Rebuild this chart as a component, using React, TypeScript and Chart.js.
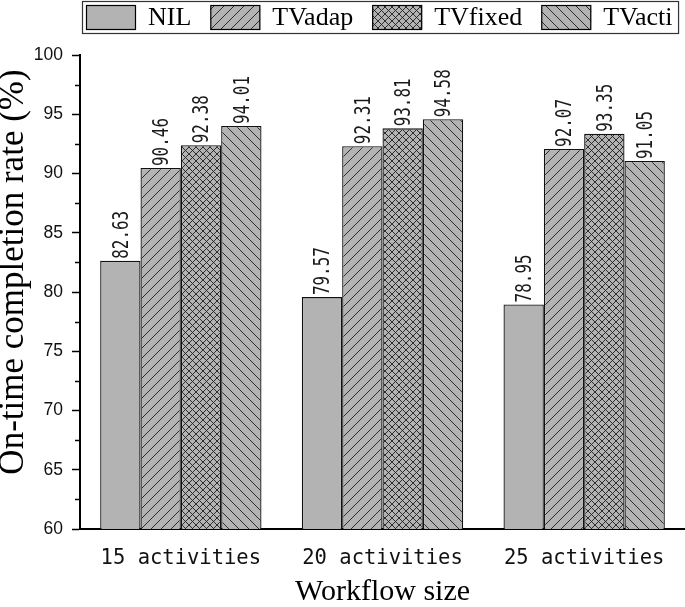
import { useEffect, useRef } from 'react';
import { Chart, registerables } from 'chart.js';

Chart.register(...registerables);

const categories = ['15 activities', '20 activities', '25 activities'];
const seriesNames = ['NIL', 'TVadap', 'TVfixed', 'TVacti'];
const nilValues = [82.63, 79.57, 78.95];
const tvadapValues = [90.46, 92.31, 92.07];
const tvfixedValues = [92.38, 93.81, 93.35];
const tvactiValues = [94.01, 94.58, 91.05];
const seriesPatterns = ['solid', 'slash', 'cross', 'backslash'];
const yMin = 60;
const yMax = 100;
const yStep = 5;
const yMinorStep = 2.5;
const xTitle = 'Workflow size';
const yTitle = 'On-time completion rate (%)';

const FILL = '#b3b3b3';
const HATCH = '#1e1e1e';

function makePattern(kind: string): CanvasPattern | string {
  if (kind === 'solid') return FILL;
  const p = kind === 'cross' ? 7 : 10;
  const c = document.createElement('canvas');
  c.width = p;
  c.height = p;
  const g = c.getContext('2d')!;
  g.fillStyle = FILL;
  g.fillRect(0, 0, p, p);
  g.strokeStyle = HATCH;
  g.lineWidth = 0.9;
  const slash = () => {
    for (const k of [0, 1, 2]) {
      g.beginPath();
      g.moveTo(-2, k * p + 2);
      g.lineTo(k * p + 2, -2);
      g.stroke();
    }
  };
  const back = () => {
    for (const k of [-1, 0, 1]) {
      g.beginPath();
      g.moveTo(k * p - 2, -2);
      g.lineTo(k * p + p + 2, p + 2);
      g.stroke();
    }
  };
  if (kind === 'slash') slash();
  if (kind === 'backslash') back();
  if (kind === 'cross') {
    slash();
    back();
  }
  return g.createPattern(c, 'repeat')!;
}

const minorTicksPlugin = {
  id: 'minorTicks',
  afterDraw(chart: any) {
    const y = chart.scales.y;
    const ctx = chart.ctx;
    const x0 = chart.chartArea.left;
    ctx.save();
    ctx.strokeStyle = '#000';
    ctx.lineWidth = 1.5;
    for (let v = yMin + yMinorStep; v < yMax; v += yStep) {
      const py = Math.round(y.getPixelForValue(v)) + 0.5;
      ctx.beginPath();
      ctx.moveTo(x0 - 5, py);
      ctx.lineTo(x0, py);
      ctx.stroke();
    }
    ctx.restore();
  },
};

const yTitlePlugin = {
  id: 'yTitle',
  afterDraw(chart: any) {
    const ctx = chart.ctx;
    const area = chart.chartArea;
    ctx.save();
    ctx.fillStyle = '#000';
    ctx.font = '35px "Liberation Serif"';
    ctx.textAlign = 'center';
    ctx.textBaseline = 'middle';
    ctx.translate(14, (area.top + area.bottom) / 2 - 20);
    ctx.rotate(-Math.PI / 2);
    ctx.fillText(yTitle, 0, 0);
    ctx.restore();
  },
};

const dataLabelPlugin = {
  id: 'dataLabels',
  afterDatasetsDraw(chart: any) {
    const ctx = chart.ctx;
    ctx.save();
    ctx.fillStyle = '#1a1a1a';
    ctx.font = '21px "DejaVu Sans Mono"';
    ctx.textAlign = 'left';
    ctx.textBaseline = 'middle';
    chart.data.datasets.forEach((ds: any, di: number) => {
      const meta = chart.getDatasetMeta(di);
      meta.data.forEach((bar: any, i: number) => {
        const v = ds.data[i] as number;
        ctx.save();
        ctx.translate(bar.x + 2, bar.y - 2);
        ctx.rotate(-Math.PI / 2);
        ctx.scale(0.76, 1);
        ctx.fillText(v.toFixed(2), 0, 0);
        ctx.restore();
      });
    });
    ctx.restore();
  },
};

const legendBoxPlugin = {
  id: 'legendBox',
  afterDraw(chart: any) {
    const ctx = chart.ctx;
    ctx.save();
    ctx.font = '26px "Liberation Serif"';
    ctx.textBaseline = 'middle';
    ctx.textAlign = 'left';
    let x = 86;
    const swW = 50;
    const swH = 24;
    const swY = 5.5;
    const textY = 18;
    chart.data.datasets.forEach((ds: any) => {
      ctx.fillStyle = ds.backgroundColor;
      ctx.fillRect(x, swY, swW, swH);
      ctx.strokeStyle = '#000';
      ctx.lineWidth = 1.2;
      ctx.strokeRect(x + 0.5, swY, swW - 1, swH);
      x += swW + 12;
      ctx.fillStyle = '#000';
      ctx.fillText(ds.label, x, textY);
      x += ctx.measureText(ds.label).width + 19;
    });
    const right = x - 19 + 6;
    ctx.strokeStyle = '#333';
    ctx.lineWidth = 1.2;
    ctx.strokeRect(82.5, 1.5, right - 82.5, 32);
    ctx.restore();
  },
};

export default function App() {
  const ref = useRef<HTMLCanvasElement>(null);

  useEffect(() => {
    if (!ref.current) return;
    const values = [nilValues, tvadapValues, tvfixedValues, tvactiValues];
    const chart = new Chart(ref.current, {
      type: 'bar',
      data: {
        labels: categories,
        datasets: seriesNames.map((name, i) => ({
          label: name,
          data: values[i],
          backgroundColor: makePattern(seriesPatterns[i]) as any,
          borderColor: '#111',
          borderWidth: 1.3,
          borderSkipped: false,
          categoryPercentage: 0.8,
          barPercentage: 1.0,
        })),
      },
      options: {
        responsive: false,
        animation: false,
        devicePixelRatio: 1,
        layout: { padding: { top: 55, left: 0, right: 0, bottom: 0 } },
        plugins: {
          legend: { display: false },
          tooltip: { enabled: false },
        },
        scales: {
          x: {
            type: 'category',
            grid: { display: false, drawTicks: false },
            border: { display: true, color: '#000', width: 2 },
            ticks: {
              color: '#111',
              font: { family: '"DejaVu Sans Mono"', size: 20.5 },
              padding: 17,
              maxRotation: 0,
              autoSkip: false,
            },
            title: {
              display: true,
              text: xTitle,
              color: '#000',
              font: { family: '"Liberation Serif"', size: 30, lineHeight: 1.0 },
              padding: 0,
            },
            afterFit(scale: any) {
              scale.height = 78;
            },
          },
          y: {
            min: yMin,
            max: yMax,
            grid: {
              display: true,
              drawOnChartArea: false,
              drawTicks: true,
              tickLength: 8,
              tickColor: '#000',
              tickWidth: 1.5,
            },
            border: { display: true, color: '#000', width: 2 },
            ticks: {
              stepSize: yStep,
              color: '#111',
              padding: 9,
              font: { family: '"Liberation Sans"', size: 17.5 },
            },
            title: { display: false },
            afterFit(scale: any) {
              scale.width = 80;
            },
          },
        },
      },
      plugins: [minorTicksPlugin, dataLabelPlugin, legendBoxPlugin, yTitlePlugin],
    });
    return () => chart.destroy();
  }, []);

  return (
    <div style={{ position: 'absolute', left: 0, top: 0, width: 685, height: 607, background: '#fff' }}>
      <canvas ref={ref} width={685} height={607} />
    </div>
  );
}
